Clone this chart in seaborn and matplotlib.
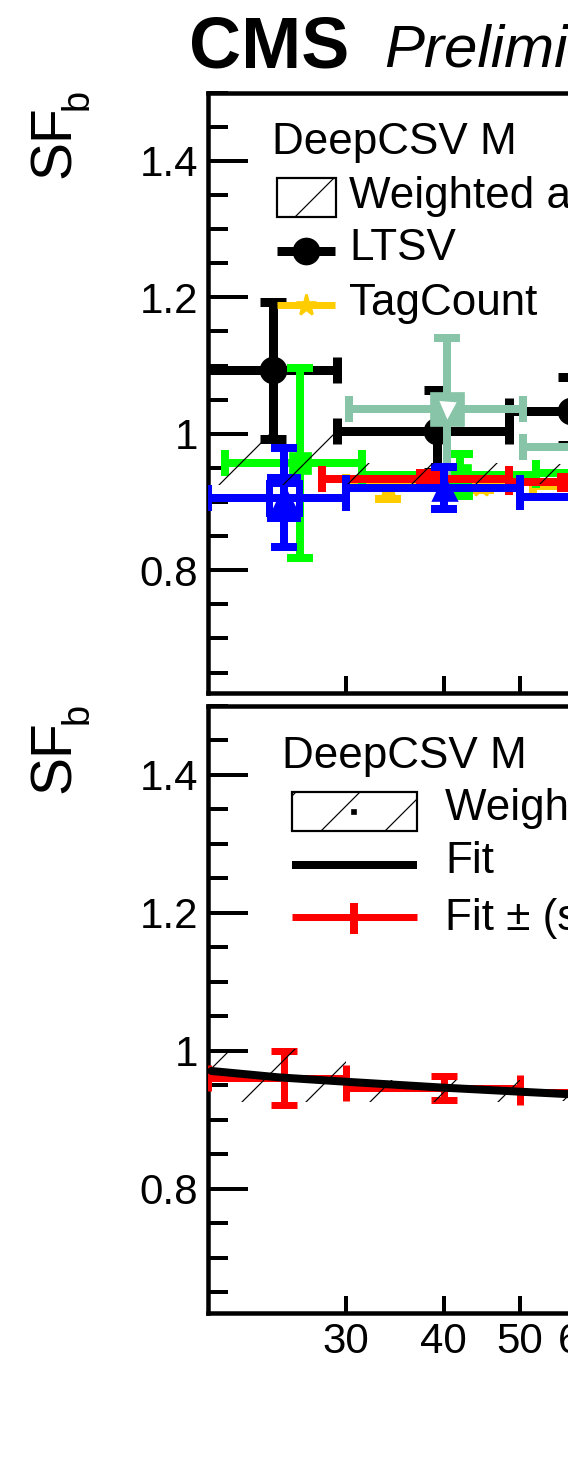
import numpy as np
import matplotlib
matplotlib.use("Agg")
import matplotlib.pyplot as plt
import seaborn as sns
from matplotlib.lines import Line2D
from matplotlib.patches import Rectangle
from matplotlib.ticker import FixedLocator, NullLocator, MultipleLocator, FixedFormatter

# ---------------- data ----------------
# weighted average band (bins in pT)
band_edges = [20, 30, 50, 70]
band_lo = [0.925, 0.926, 0.927]
band_hi = [1.002, 0.957, 0.955]

# LTSV (black, circles)
ltsv_x = [24.2, 39.2, 58.2]
ltsv_xlo = [19.4, 29.2, 48.5]
ltsv_xhi = [29.2, 48.5, 68.0]
ltsv_y = [1.093, 1.004, 1.033]
ltsv_err = [0.100, 0.060, 0.050]

# TagCount (gold, stars)
tc_x = [34.0, 44.7, 60.0]
tc_xlo = [30.0, 40.0, 52.0]
tc_xhi = [40.0, 50.0, 72.0]
tc_y = [0.922, 0.924, 0.923]
tc_err = [0.018, 0.006, 0.010]

# green method (squares)
gr_x = [26.25, 42.0, 63.0]
gr_xlo = [21.0, 31.5, 52.5]
gr_xhi = [31.5, 52.5, 73.5]
gr_y = [0.957, 0.940, 0.942]
gr_err = [0.139, 0.031, 0.030]

# teal method
te_x = [40.4, 60.6]
te_xlo = [30.3, 50.5]
te_xhi = [50.5, 70.7]
te_y = [1.037, 0.980]
te_err = [0.103, 0.050]

# red method (diamonds)
rd_x = [38.3, 58.0]
rd_xlo = [28.0, 48.5]
rd_xhi = [48.5, 68.0]
rd_y = [0.934, 0.929]
rd_err = [0.008, 0.008]

# blue method (triangles)
bl_x = [25.0, 40.0, 60.0]
bl_xlo = [20.0, 30.0, 50.0]
bl_xhi = [30.0, 50.0, 70.0]
bl_y = [0.906, 0.921, 0.908]
bl_err = [0.0725, 0.031, 0.030]
bl_stat = [0.028]

# bottom panel: fit and fit +- uncertainty
fit_pt = [20.2, 24.6, 30.0, 40.0, 50.0, 60.0]
fit_sf = [0.9706, 0.9614, 0.9550, 0.9464, 0.9406, 0.9360]
fe_x = [25.0, 40.0, 60.0]
fe_xlo = [20.0, 30.0, 50.0]
fe_xhi = [30.0, 50.0, 70.0]
fe_y = [0.960, 0.946, 0.9406]
fe_err = [0.039, 0.018, 0.015]

xtick_vals = [30, 40, 50, 60, 70, 80, 90, 100, 200, 300, 400, 500, 600, 700, 800, 900, 1000]
xtick_labels = ["30", "40", "50", "60", "70", "", "", "100", "200", "300", "", "", "", "", "", "", "1000"]
ytick_vals = [0.8, 1.0, 1.2, 1.4]
ytick_labels = ["0.8", "1", "1.2", "1.4"]

# ---------------- style ----------------
DPI = 192
W, H = 568, 1457


def PT(px):
    return px * 72.0 / DPI


sns.set_theme(style="ticks")
plt.rcParams["font.family"] = ["Liberation Sans", "DejaVu Sans"]
plt.rcParams["hatch.linewidth"] = PT(1.2)
plt.rcParams["hatch.color"] = "black"
plt.rcParams["text.color"] = "black"
plt.rcParams["axes.labelcolor"] = "black"
plt.rcParams["xtick.color"] = "black"
plt.rcParams["ytick.color"] = "black"
plt.rcParams["axes.edgecolor"] = "black"

GOLD = "#FFCC00"
GREEN = "#00FF00"
TEAL = "#88C4A8"
BLUE = "#0000FF"
RED = "#FF0000"

fig = plt.figure(figsize=(W / DPI, H / DPI), dpi=DPI)
fig.patch.set_facecolor("white")

axw = 783.0 * np.log10(1000 / 20.0)
ax1 = fig.add_axes([208 / W, (H - 693) / H, axw / W, (693 - 92.7) / H])
ax2 = fig.add_axes([208 / W, (H - 1312.7) / H, axw / W, (1312.7 - 706) / H])

for ax in (ax1, ax2):
    ax.set_facecolor("white")
    ax.set_xscale("log")
    ax.set_xlim(20, 1000)
    ax.set_ylim(0.62, 1.5)
    for s in ax.spines.values():
        s.set_linewidth(PT(4.5))
        s.set_color("black")
    ax.yaxis.set_major_locator(FixedLocator(ytick_vals))
    ax.yaxis.set_major_formatter(FixedFormatter(ytick_labels))
    ax.yaxis.set_minor_locator(MultipleLocator(0.05))
    ax.xaxis.set_major_locator(FixedLocator(xtick_vals))
    ax.xaxis.set_major_formatter(FixedFormatter(xtick_labels))
    ax.xaxis.set_minor_locator(NullLocator())
    ax.tick_params(axis="y", which="major", direction="in", length=PT(40), width=PT(4),
                   pad=PT(10), labelsize=PT(42), colors="black", left=True, right=False)
    ax.tick_params(axis="y", which="minor", direction="in", length=PT(20), width=PT(4),
                   colors="black", left=True, right=False)
    ax.tick_params(axis="x", which="major", direction="in", length=PT(17), width=PT(4),
                   pad=PT(9), labelsize=PT(42), colors="black", bottom=True, top=False)
    ax.set_xlabel("")
    ax.set_ylabel("")
    ax.grid(False)

ax1.tick_params(axis="x", labelbottom=False)


def draw_band(ax):
    lo = list(band_lo) + [band_lo[-1]]
    hi = list(band_hi) + [band_hi[-1]]
    ax.fill_between(band_edges, lo, hi, step="post", facecolor="none",
                    edgecolor="black", hatch="/", linewidth=0, zorder=10)


def draw_err(ax, x, xlo, xhi, y, yerr, color, marker, ms, lw, z, cap=13, **kw):
    x = np.asarray(x)
    xerr = [x - np.asarray(xlo), np.asarray(xhi) - x]
    ax.errorbar(x, y, xerr=xerr, yerr=yerr, fmt=marker, color=color, ms=PT(ms),
                elinewidth=PT(lw), capsize=PT(cap), capthick=PT(lw), zorder=z,
                mec=color, **kw)


# ---- top panel ----
draw_err(ax1, ltsv_x, ltsv_xlo, ltsv_xhi, ltsv_y, ltsv_err, "black", "o", 25, 9, 3)
draw_err(ax1, tc_x, tc_xlo, tc_xhi, tc_y, tc_err, GOLD, "*", 22, 8, 4)
draw_err(ax1, gr_x, gr_xlo, gr_xhi, gr_y, gr_err, GREEN, "s", 20, 8, 5)
draw_err(ax1, te_x, te_xlo, te_xhi, te_y, te_err, TEAL, "s", 32, 8, 6)
ax1.plot(te_x, te_y, linestyle="none", marker="v", ms=PT(13), color="white", mec="white", zorder=6.5)
draw_err(ax1, rd_x, rd_xlo, rd_xhi, rd_y, rd_err, RED, "D", 13, 8, 7)
draw_err(ax1, bl_x, bl_xlo, bl_xhi, bl_y, bl_err, BLUE, "^", 23, 8, 8)
ax1.errorbar(bl_x[:1], bl_y[:1], yerr=bl_stat, fmt="none", color=BLUE,
             elinewidth=PT(8), capsize=PT(17), capthick=PT(10), zorder=8)
ax1.plot(bl_x[:1], bl_y[:1], linestyle="none", marker="s", ms=PT(30), mfc="none",
         mec=BLUE, mew=PT(7), zorder=7.9)
draw_band(ax1)

# ---- bottom panel ----
draw_band(ax2)
draw_err(ax2, fe_x, fe_xlo, fe_xhi, fe_y, fe_err, RED, "none", 0, 7, 7)
sns.lineplot(x=fit_pt, y=fit_sf, ax=ax2, color="black", linewidth=PT(8), zorder=9)
ax2.set_xlabel("")
ax2.set_ylabel("")


def fx(px):
    return px / W


def fy(py):
    return 1 - py / H


fig.text(fx(189), fy(68), "CMS", fontsize=PT(72), fontweight="bold", va="baseline", ha="left")
fig.text(fx(384), fy(67), "Preliminary", fontsize=PT(60), fontstyle="italic", va="baseline", ha="left")

for ystart, bstart in ((178, 110), (793, 724)):
    fig.text(fx(70), fy(ystart), "SF", rotation=90, rotation_mode="anchor", ha="left",
             va="baseline", fontsize=PT(57))
    fig.text(fx(88), fy(bstart), "b", rotation=90, rotation_mode="anchor", ha="left",
             va="baseline", fontsize=PT(38))

LFS = PT(44)


def legend_box(x0, y0, x1, y1, dot=None):
    r = Rectangle((fx(x0), fy(y1)), (x1 - x0) / W, (y1 - y0) / H, transform=fig.transFigure,
                  facecolor="none", edgecolor="black", hatch="/", linewidth=PT(2.2), zorder=20)
    fig.add_artist(r)
    if dot is not None:
        fig.add_artist(Line2D([fx(dot[0])], [fy(dot[1])], marker="s", ms=PT(3), color="black",
                              linestyle="none", transform=fig.transFigure))


def legend_line(x0, x1, y, color, lw, marker=None, ms=0, mx=None):
    fig.add_artist(Line2D([fx(x0), fx(x1)], [fy(y), fy(y)], color=color, linewidth=PT(lw),
                          solid_capstyle="butt", transform=fig.transFigure))
    if marker is not None:
        fig.add_artist(Line2D([fx(mx)], [fy(y)], marker=marker, ms=PT(ms), color=color,
                              linestyle="none", transform=fig.transFigure))


# top legend
fig.text(fx(272), fy(154), "DeepCSV M", fontsize=LFS, va="baseline")
legend_box(277, 178, 336, 217)
fig.text(fx(349), fy(208), "Weighted average", fontsize=LFS, va="baseline")
legend_line(277, 335, 251, "black", 9, "o", 25, 306)
fig.text(fx(349), fy(260), "LTSV", fontsize=LFS, va="baseline")
legend_line(277, 335, 305, GOLD, 7, "*", 22, 306)
fig.text(fx(349), fy(315), "TagCount", fontsize=LFS, va="baseline")

# bottom legend
fig.text(fx(282), fy(768), "DeepCSV M", fontsize=LFS, va="baseline")
legend_box(292, 792, 417, 831, dot=(353, 811))
fig.text(fx(445), fy(820), "Weighted average", fontsize=LFS, va="baseline")
legend_line(292, 417, 865, "black", 8)
fig.text(fx(445), fy(873), "Fit", fontsize=LFS, va="baseline")
legend_line(292, 417, 917, RED, 7)
fig.add_artist(Line2D([fx(354), fx(354)], [fy(903), fy(934)], color=RED, linewidth=PT(8),
                      solid_capstyle="butt", transform=fig.transFigure))
fig.text(fx(445), fy(930), "Fit \u00b1 (stat \u2295 syst)", fontsize=LFS, va="baseline")

fig.savefig("out.png", dpi=DPI, facecolor="white")
